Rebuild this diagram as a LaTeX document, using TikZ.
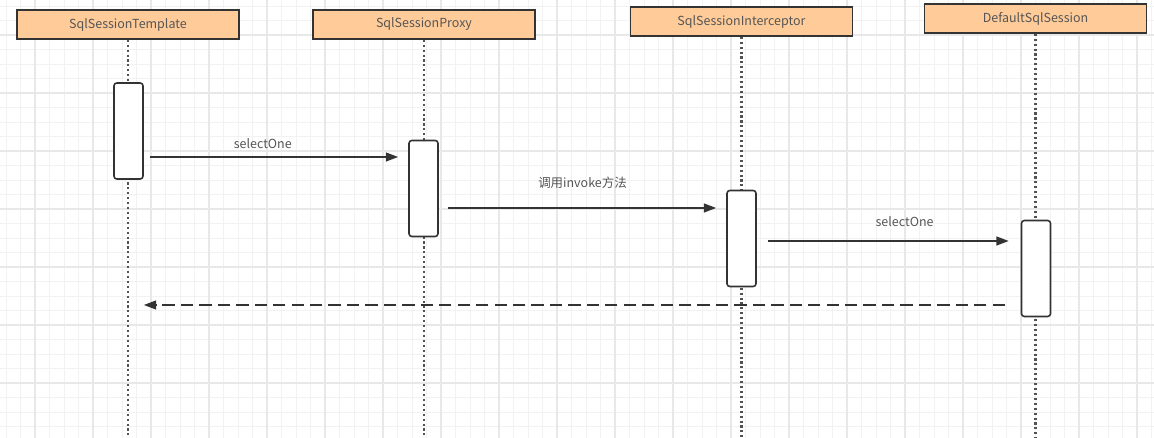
\documentclass[tikz,border=0pt]{standalone}
\usepackage{fontspec}
\setmainfont{Noto Sans CJK SC}
\usetikzlibrary{arrows.meta,positioning}
\definecolor{headfill}{HTML}{FFCC99}
\definecolor{linegray}{HTML}{333333}
\definecolor{textgray}{HTML}{555555}
\definecolor{gridminor}{HTML}{F2F2F2}
\definecolor{gridmajor}{HTML}{E8E8E8}

\begin{document}
\begin{tikzpicture}[x=0.02cm, y=-0.02cm,
    head/.style={draw=linegray, fill=headfill, line width=0.9pt, minimum width=4.44cm,
      minimum height=0.58cm, inner sep=0pt, text=textgray, font=\fontsize{7.1}{8}\selectfont},
    act/.style={draw=linegray, fill=white, line width=0.9pt, rounded corners=1.6pt,
      minimum width=0.58cm, minimum height=1.92cm, inner sep=0pt},
    life/.style={linegray!85, line width=1.3pt, dash pattern=on 1.2pt off 1.6pt},
    msg/.style={-{Triangle[length=7pt,width=5pt]}, linegray, line width=1pt},
    back/.style={msg, dash pattern=on 7pt off 3.5pt},
    lbl/.style={text=textgray, font=\fontsize{7.1}{8}\selectfont, inner sep=0pt}]
  \useasboundingbox (0,0) rectangle (1154,438);
  % grid
  \foreach \x in {6.0,20.5,...,1154}
    \draw[gridminor, line width=0.5pt] (\x,0) -- (\x,438);
  \foreach \y in {6.0,20.5,...,438}
    \draw[gridminor, line width=0.5pt] (0,\y) -- (1154,\y);
  \foreach \x in {35,93,...,1154}
    \draw[gridmajor, line width=0.6pt] (\x,0) -- (\x,438);
  \foreach \y in {35,93,...,438}
    \draw[gridmajor, line width=0.6pt] (0,\y) -- (1154,\y);

  % lifeline heads
  \node[head] (tmpl)  at (128,24.5)   {SqlSessionTemplate};
  \node[head] (proxy) at (424,24.5)   {SqlSessionProxy};
  \node[head] (icpt)  at (741.5,21.5) {SqlSessionInterceptor};
  \node[head] (dflt)  at (1035.5,18.5) {DefaultSqlSession};

  % dotted lifelines
  \foreach \h in {tmpl,proxy,icpt,dflt}
    \draw[life] (\h.south) -- (\h.south |- 0,438);

  % activations
  \node[act] (t1) at (128.5,131)  {};
  \node[act] (p1) at (423.5,188.5) {};
  \node[act] (i1) at (741.5,238.5) {};
  \node[act] (d1) at (1036,268.5) {};

  % messages
  \draw[msg, shorten <=3.4pt, shorten >=5.7pt] ([yshift=-0.52cm]t1.east) --
    ([yshift=-0.52cm]t1.east -| p1.west)
    node[lbl, pos=0.45, yshift=0.26cm] (m1) {selectOne};
  \draw[msg, shorten <=5.1pt, shorten >=5.7pt] ([yshift=-0.39cm]p1.east) --
    ([yshift=-0.39cm]p1.east -| i1.west)
    node[lbl, pos=0.5, yshift=0.5cm] (m2) {调用invoke方法};
  \draw[msg, shorten <=6.2pt, shorten >=6.8pt] ([yshift=-0.05cm]i1.east) --
    ([yshift=-0.05cm]i1.east -| d1.west)
    node[lbl, pos=0.56, yshift=0.39cm] (m3) {selectOne};
  % return
  \draw[back, shorten <=9pt] ([yshift=-0.73cm]d1.west) -- ([yshift=-0.73cm]d1.west -| t1.east);
\end{tikzpicture}
\end{document}
